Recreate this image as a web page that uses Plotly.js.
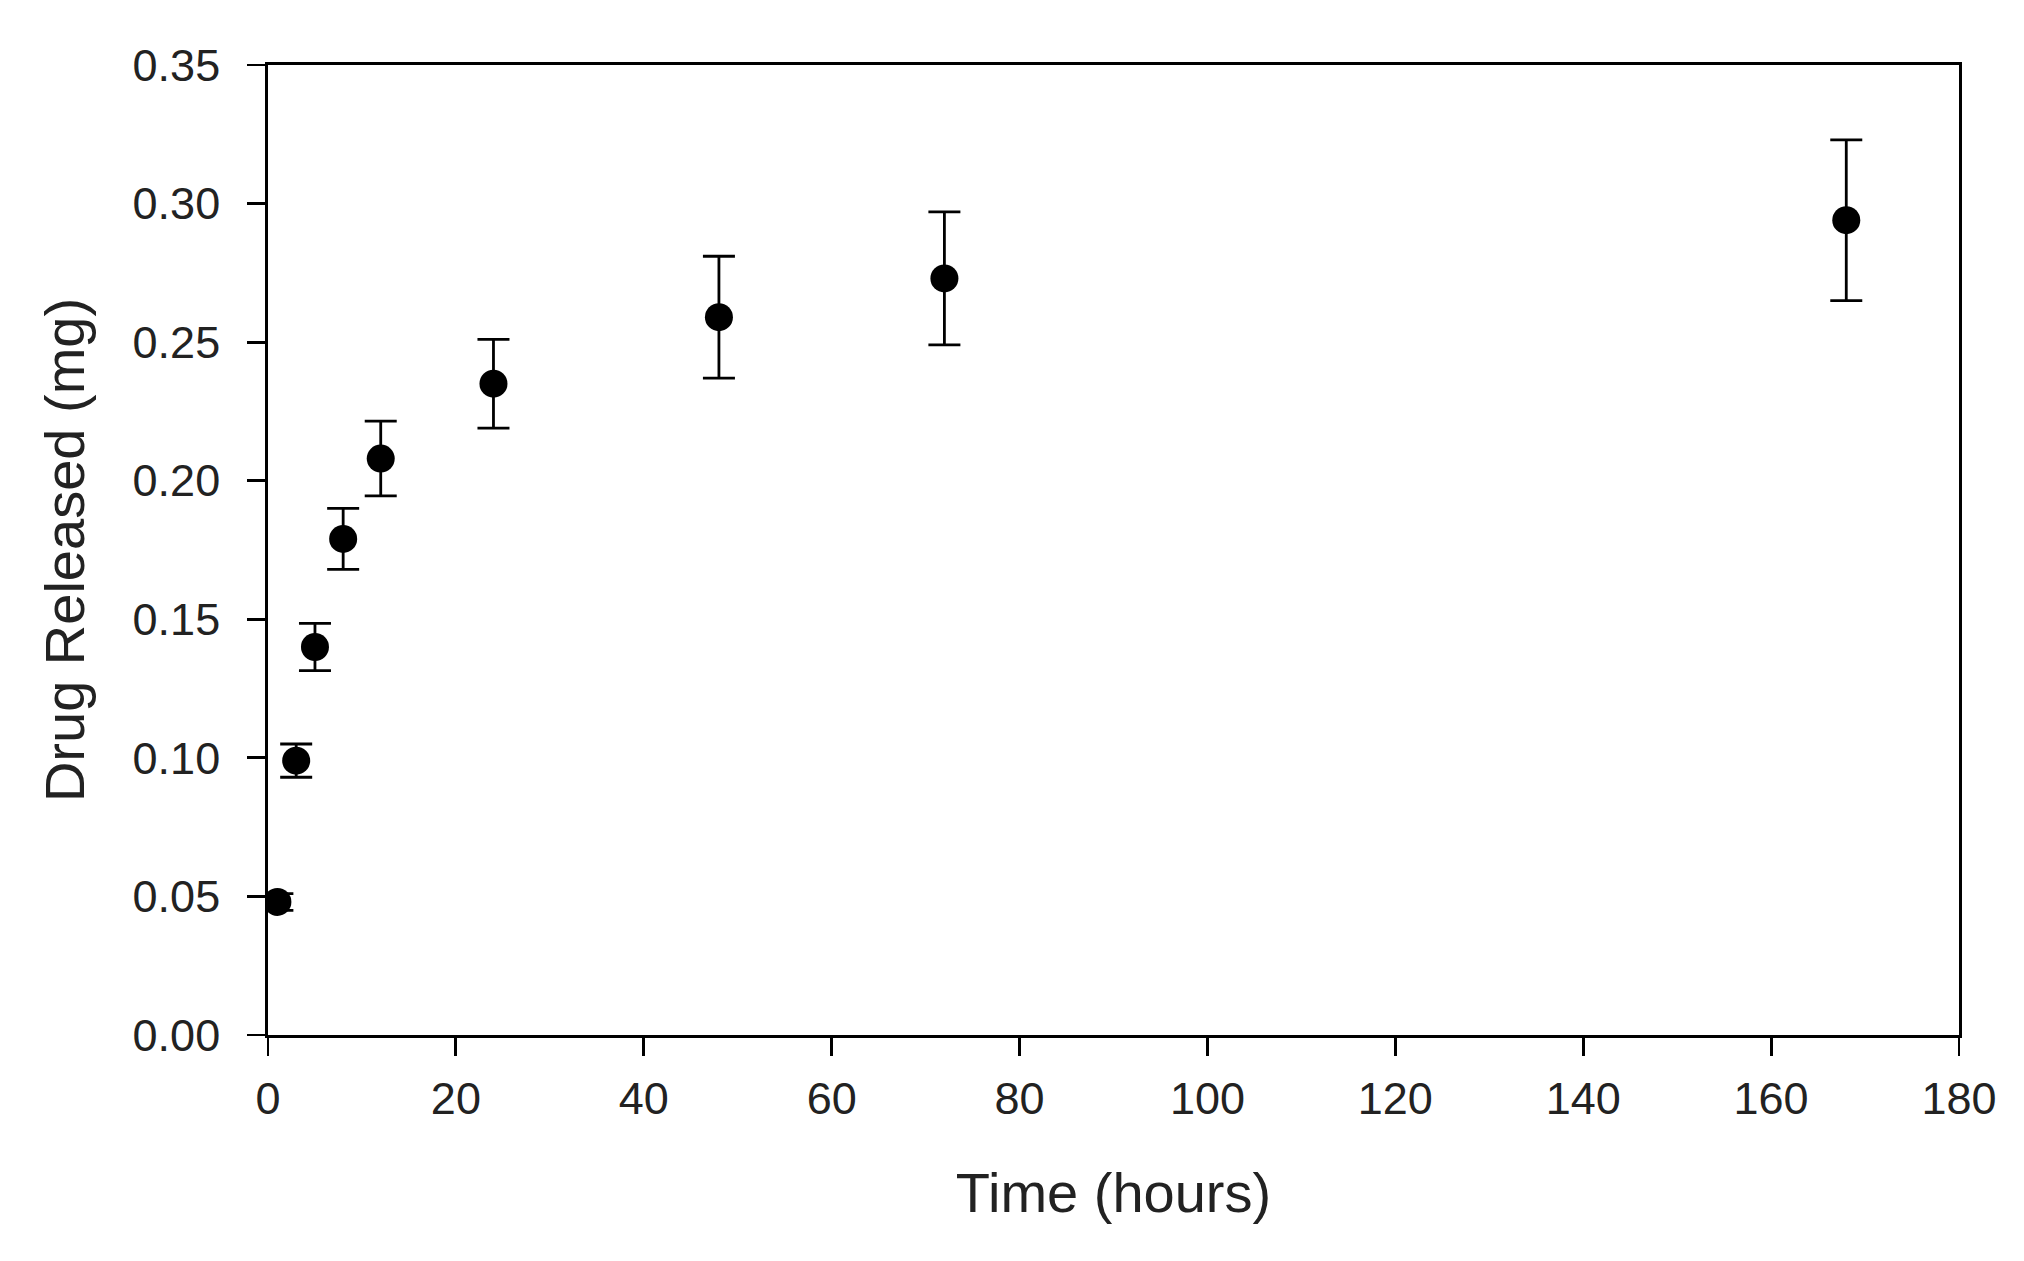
<!DOCTYPE html>
<html>
<head>
<meta charset="utf-8">
<script src="https://cdn.plot.ly/plotly-3.0.1.min.js"></script>
<style>html,body{margin:0;padding:0;background:#fff;}#chart{width:2024px;height:1261px;}</style>
</head>
<body>
<div id="chart"></div>
<script>
const timeHours = [1, 3, 5, 8, 12, 24, 48, 72, 168];
const drugReleased = [0.048, 0.099, 0.140, 0.179, 0.208, 0.235, 0.259, 0.273, 0.294];
const errorSD = [0.003, 0.006, 0.0085, 0.011, 0.0135, 0.016, 0.022, 0.024, 0.029];
const xTicks = [0, 20, 40, 60, 80, 100, 120, 140, 160, 180];
const yTicks = [0.00, 0.05, 0.10, 0.15, 0.20, 0.25, 0.30, 0.35];
const yTickLabels = ["0.00", "0.05", "0.10", "0.15", "0.20", "0.25", "0.30", "0.35"];

const trace = {
  x: timeHours,
  y: drugReleased,
  type: 'scatter',
  mode: 'markers',
  marker: {color: '#000', size: 28, line: {width: 0}},
  error_y: {type: 'data', array: errorSD, visible: true, color: '#000', thickness: 2.8, width: 16},
  showlegend: false
};

const fontFam = '"Liberation Sans", Arial, sans-serif';
const txt = '#222';
const layout = {
  width: 2024, height: 1261,
  margin: {l: 268, r: 65, t: 65, b: 226},
  paper_bgcolor: '#fff', plot_bgcolor: '#fff',
  font: {family: fontFam, color: txt},
  xaxis: {
    range: [0, 180], tickvals: xTicks, ticktext: xTicks.map(String),
    showgrid: false, zeroline: false, showline: true, mirror: true,
    linecolor: '#000', linewidth: 2.8, ticks: 'outside', ticklen: 18, tickwidth: 2.8, tickcolor: '#000',
    ticklabelstandoff: 4,
    tickfont: {size: 45, family: fontFam, color: txt},
    title: {text: 'Time (hours)', font: {size: 56, family: fontFam, color: txt}, standoff: 50}
  },
  yaxis: {
    range: [0, 0.35], tickvals: yTicks, ticktext: yTickLabels,
    showgrid: false, zeroline: false, showline: true, mirror: true,
    linecolor: '#000', linewidth: 2.8, ticks: 'outside', ticklen: 18, tickwidth: 2.8, tickcolor: '#000',
    ticklabelstandoff: 18,
    tickfont: {size: 45, family: fontFam, color: txt},
    title: {text: 'Drug Released (mg)', font: {size: 56, family: fontFam, color: txt}, standoff: 30}
  }
};

Plotly.newPlot('chart', [trace], layout, {staticPlot: true, displayModeBar: false});
</script>
</body>
</html>
